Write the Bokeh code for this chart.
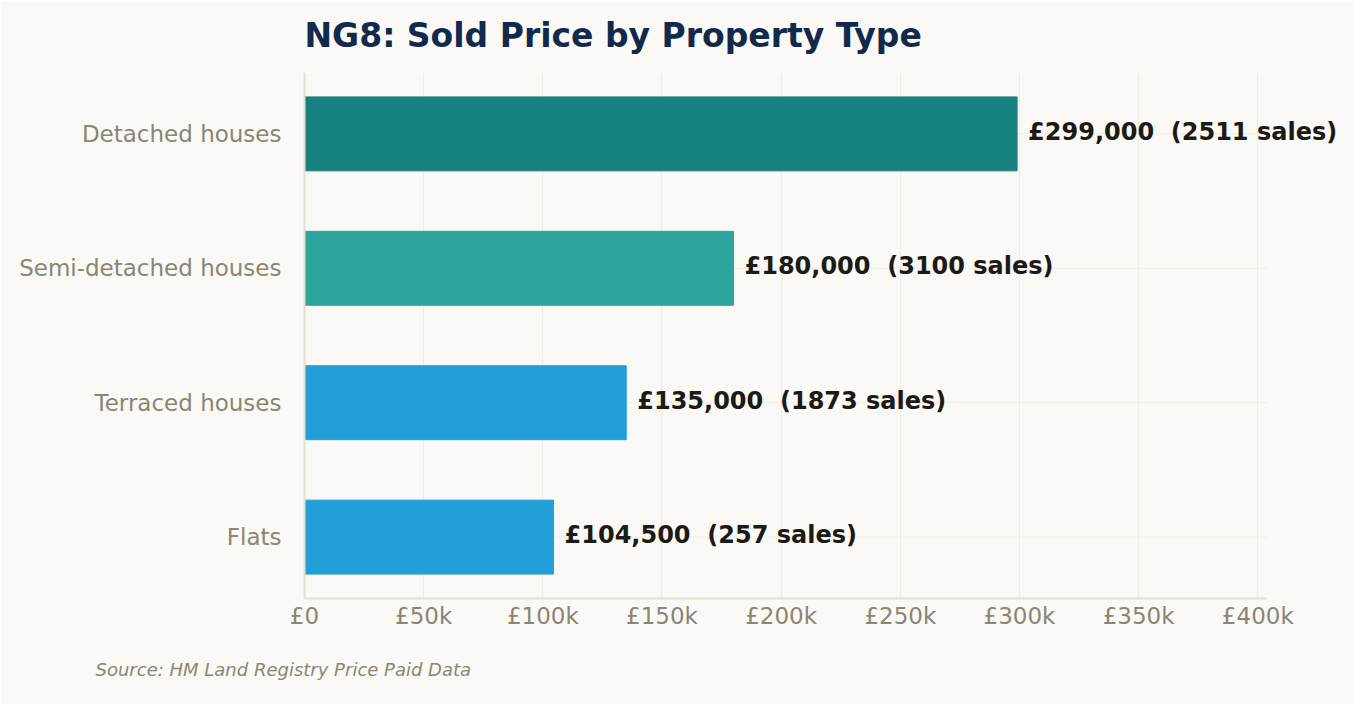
from bokeh.plotting import figure
from bokeh.models import ColumnDataSource, FactorRange, Range1d, FixedTicker, Title, LabelSet
from bokeh.core.properties import value
from bokeh.embed import file_html
from bokeh.resources import INLINE

categories = ["Flats", "Terraced houses", "Semi-detached houses", "Detached houses"]
prices = [104500, 135000, 180000, 299000]
sales = [257, 1873, 3100, 2511]
colors = ["#229fd9", "#229fd9", "#2ca59c", "#178180"]
x_ticks = [0, 50000, 100000, 150000, 200000, 250000, 300000, 350000, 400000]
x_tick_labels = ["£0", "£50k", "£100k", "£150k", "£200k", "£250k", "£300k", "£350k", "£400k"]
title_text = "NG8: Sold Price by Property Type"
source_text = "Source: HM Land Registry Price Paid Data"

labels = ["£{:,} \u00a0({} sales)".format(p, s) for p, s in zip(prices, sales)]
x_max = max(prices) * 1.35
src = ColumnDataSource(dict(cat=categories, price=prices, color=colors, label=labels,
                            zero=[0] * len(prices), xmax=[x_max] * len(prices)))

BG = "#faf9f5"
FONT = "DejaVu Sans"
W, H = 1354, 704
LEFT, RIGHT, AXIS_W = 304, 8, 962   # axis drawn over 962px; frame extended so labels are not clipped
view_max = x_max * (W - LEFT - RIGHT) / AXIS_W

p = figure(
    width=W, height=H,
    y_range=FactorRange(factors=categories, range_padding=-0.0217),
    x_range=Range1d(0, view_max),
    output_backend="svg", toolbar_location=None,
    min_border_left=LEFT, min_border_right=RIGHT, min_border_top=72, min_border_bottom=105,
    background_fill_color=BG, border_fill_color=BG, outline_line_color=None,
)

# horizontal grid lines at the categories, only across the axis extent
p.segment(x0="zero", x1="xmax", y0="cat", y1="cat", source=src,
          line_color="#efece5", line_width=1, level="underlay")

p.hbar(y="cat", right="price", left=0, height=0.55, color="color", source=src)

p.add_layout(LabelSet(x="price", y="cat", text="label", source=src, x_offset=11, y_offset=2,
                      text_font=value(FONT), text_font_style="bold", text_font_size="24px",
                      text_color="#1c1a16", text_baseline="middle", text_align="left"))

# axes
p.xaxis.ticker = FixedTicker(ticks=x_ticks)
p.xaxis.major_label_overrides = {t: l for t, l in zip(x_ticks, x_tick_labels)}
p.xaxis.bounds = (0, x_max)
for ax in (p.xaxis, p.yaxis):
    ax.axis_line_color = "#e4dfd1"
    ax.axis_line_width = 2
    ax.major_tick_line_color = None
    ax.minor_tick_line_color = None
    ax.major_tick_out = 0
    ax.major_tick_in = 0
    ax.minor_tick_out = 0
    ax.major_label_text_font = FONT
    ax.major_label_text_font_size = "23px"
    ax.major_label_text_color = "#8a8576"
p.xaxis.major_label_standoff = 4
p.yaxis.major_label_standoff = 23

p.xgrid.grid_line_color = "#efece5"
p.xgrid.grid_line_width = 1
p.ygrid.grid_line_color = None

p.title.text = title_text
p.title.text_font = FONT
p.title.text_font_size = "33px"
p.title.text_font_style = "bold"
p.title.text_color = "#13294b"
p.title.align = "left"
p.title.vertical_align = "top"
p.title.standoff = 31

p.add_layout(Title(text=source_text, text_font=FONT,
                   text_font_size="18px", text_font_style="italic", text_color="#8a8576",
                   align="left", offset=-209, standoff=50), "below")

open("out.html", "w").write(file_html(p, INLINE))
